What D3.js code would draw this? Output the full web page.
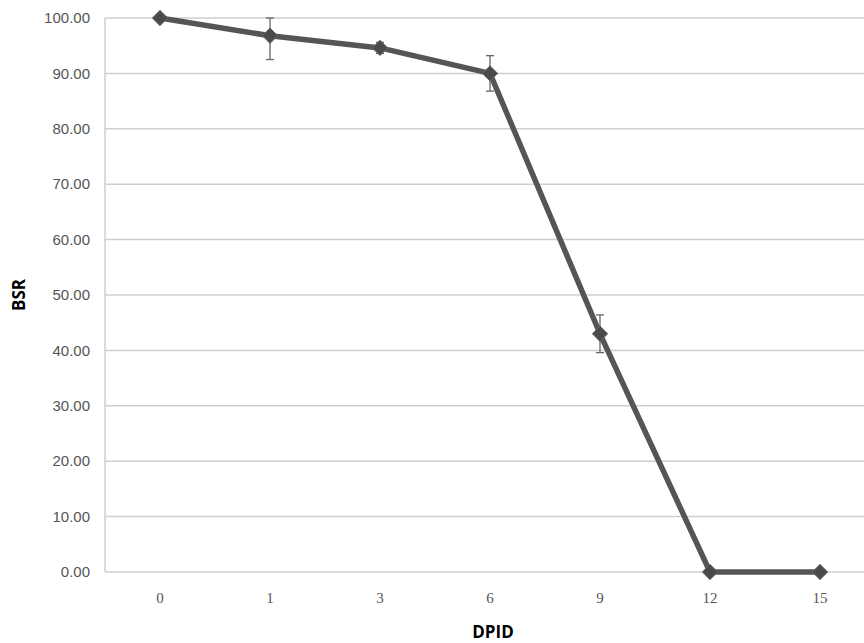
<!DOCTYPE html>
<html><head><meta charset="utf-8">
<script src="https://cdn.jsdelivr.net/npm/d3@7"></script>
<style>body{margin:0;background:#fff}svg{display:block}</style>
</head><body>
<script>
const categories = ["0","1","3","6","9","12","15"];
const values = [100, 96.8, 94.6, 90.0, 43.0, 0, 0];
const errors = [0, 4.3, 1.0, 3.2, 3.4, 0, 0];
const yTicks = [0,10,20,30,40,50,60,70,80,90,100];

(function(){
const W = 864, H = 643;
const svg = d3.select("body").append("svg").attr("width", W).attr("height", H);
const mL = 105, mR = 875, mT = 18, mB = 572;
const x = d3.scaleBand().domain(categories).range([mL, mR]);
const y = d3.scaleLinear().domain([0, 100]).range([mB, mT]);
const cx = d => x(d) + x.bandwidth() / 2;

svg.append("g").selectAll("line").data(yTicks).join("line")
  .attr("x1", mL).attr("x2", W).attr("y1", d => y(d)).attr("y2", d => y(d))
  .attr("stroke", "#cfcfcf").attr("stroke-width", 1.5);
svg.append("line").attr("x1", mL).attr("x2", mL).attr("y1", mT).attr("y2", mB)
  .attr("stroke", "#cfcfcf").attr("stroke-width", 1.5);

svg.append("g").selectAll("text").data(yTicks).join("text")
  .attr("x", 90).attr("y", d => y(d)).attr("dy", "0.35em")
  .attr("text-anchor", "end").attr("font-family", "Liberation Sans, Arial, sans-serif")
  .attr("font-size", 15).attr("fill", "#555").text(d => d.toFixed(2));

svg.append("g").selectAll("text").data(categories).join("text")
  .attr("x", d => cx(d)).attr("y", 603)
  .attr("text-anchor", "middle").attr("font-family", "Liberation Serif, serif")
  .attr("font-size", 15).attr("fill", "#555").text(d => d);

const eb = svg.append("g").attr("stroke", "#666").attr("stroke-width", 1.3);
categories.forEach((c, i) => {
  if (!errors[i]) return;
  const hi = Math.min(100, values[i] + errors[i]), lo = values[i] - errors[i];
  eb.append("line").attr("x1", cx(c)).attr("x2", cx(c)).attr("y1", y(hi)).attr("y2", y(lo));
  eb.append("line").attr("x1", cx(c) - 4).attr("x2", cx(c) + 4).attr("y1", y(hi)).attr("y2", y(hi));
  eb.append("line").attr("x1", cx(c) - 4).attr("x2", cx(c) + 4).attr("y1", y(lo)).attr("y2", y(lo));
});

const line = d3.line().x((d, i) => cx(categories[i])).y(d => y(d));
svg.append("path").datum(values).attr("d", line).attr("fill", "none")
  .attr("stroke", "#555").attr("stroke-width", 5.5).attr("stroke-linejoin", "round");

const sym = d3.symbol().type(d3.symbolDiamond2).size(150);
svg.append("g").selectAll("path").data(values).join("path")
  .attr("transform", (d, i) => `translate(${cx(categories[i])},${y(d)})`)
  .attr("d", sym).attr("fill", "#4a4a4a").attr("stroke", "#666").attr("stroke-width", 1);

svg.append("text").attr("x", 493).attr("y", 638).attr("text-anchor", "middle")
  .attr("font-family", "Open Sans, sans-serif").attr("font-weight", "bold")
  .attr("font-size", 17).attr("fill", "#000").text("DPID");
svg.append("text").attr("transform", "translate(25,295) rotate(-90)").attr("text-anchor", "middle")
  .attr("font-family", "Open Sans, sans-serif").attr("font-weight", "bold")
  .attr("font-size", 17).attr("fill", "#000").text("BSR");
})();
</script>
</body></html>
